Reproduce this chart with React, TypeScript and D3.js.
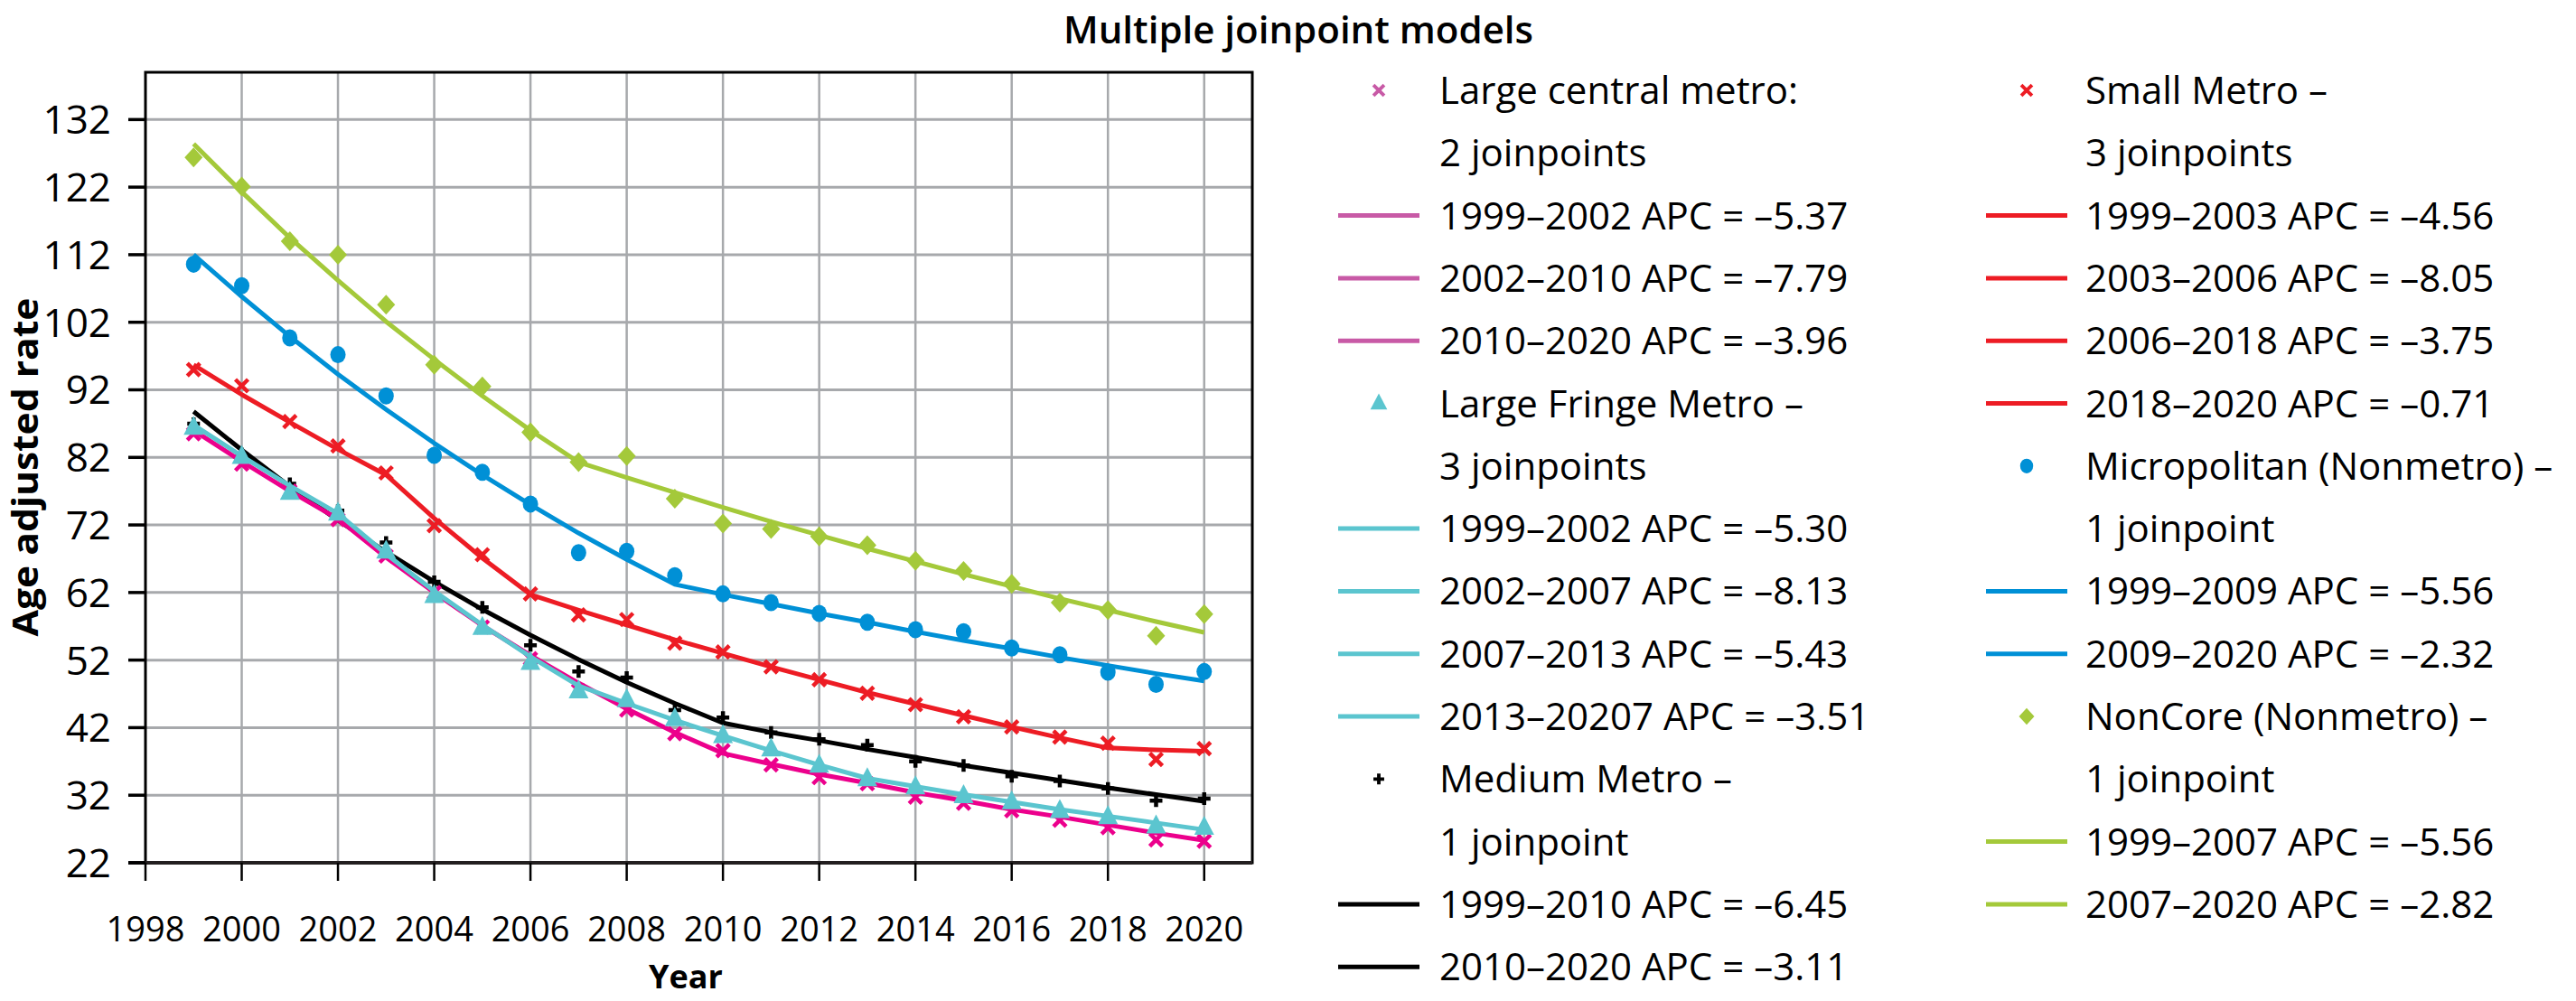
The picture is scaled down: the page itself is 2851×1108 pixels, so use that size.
import React from 'react';
import * as d3 from 'd3';

const WIDTH = 2851;
const HEIGHT = 1108;
const PLOT = { left: 161, right: 1386, top: 80, bottom: 955 };
const FONT = "'Open Sans', 'Noto Sans', sans-serif";

const years = [1999, 2000, 2001, 2002, 2003, 2004, 2005, 2006, 2007, 2008, 2009, 2010, 2011, 2012, 2013, 2014, 2015, 2016, 2017, 2018, 2019, 2020];
const xTicks = [1998, 2000, 2002, 2004, 2006, 2008, 2010, 2012, 2014, 2016, 2018, 2020];
const yTicks = [22, 32, 42, 52, 62, 72, 82, 92, 102, 112, 122, 132];

// observed rates
const centralObs = [85.5, 81.0, 77.0, 72.8, 67.4, 62.0, 56.9, 52.2, 47.5, 44.6, 41.1, 38.6, 36.5, 34.6, 33.7, 31.7, 30.8, 29.7, 28.3, 27.2, 25.4, 25.2];
const fringeObs = [86.4, 82.1, 76.8, 73.7, 68.1, 61.5, 56.8, 51.6, 47.4, 46.1, 43.3, 40.8, 38.8, 36.4, 34.4, 33.2, 31.9, 31.0, 29.7, 28.8, 27.4, 27.2];
const mediumObs = [87.0, 82.5, 78.1, 74.1, 69.4, 63.6, 59.8, 54.2, 50.3, 49.4, 44.6, 43.5, 41.3, 40.3, 39.4, 37.0, 36.4, 34.8, 34.1, 33.0, 31.2, 31.5];
const smallObs = [95.0, 92.6, 87.3, 83.7, 79.7, 71.9, 67.6, 61.8, 58.7, 58.0, 54.5, 53.2, 51.0, 49.1, 47.1, 45.4, 43.6, 42.1, 40.6, 39.7, 37.3, 38.9];
const microObs = [110.6, 107.4, 99.7, 97.2, 91.1, 82.3, 79.8, 75.1, 67.9, 68.1, 64.5, 61.8, 60.5, 58.9, 57.6, 56.5, 56.2, 53.8, 52.8, 50.2, 48.4, 50.3];
const noncoreObs = [126.4, 122.1, 114.0, 112.0, 104.6, 95.7, 92.5, 85.7, 81.3, 82.2, 75.9, 72.2, 71.4, 70.3, 69.0, 66.7, 65.2, 63.3, 60.5, 59.4, 55.6, 58.8];

// joinpoint fitted lines
const centralFit = [86.0, 81.4, 77.0, 72.9, 67.2, 62.0, 57.1, 52.7, 48.6, 44.8, 41.3, 38.2, 36.6, 35.1, 33.8, 32.4, 31.2, 29.9, 28.8, 27.6, 26.4, 25.3];
const fringeFit = [86.8, 82.2, 77.8, 73.7, 67.7, 62.2, 57.2, 52.5, 48.2, 45.6, 43.1, 40.8, 38.6, 36.5, 34.5, 33.3, 32.1, 31.0, 29.9, 28.9, 27.9, 26.9];
const mediumFit = [88.8, 83.1, 77.7, 72.7, 68.0, 63.6, 59.5, 55.7, 52.1, 48.7, 45.6, 42.7, 41.3, 40.1, 38.8, 37.6, 36.4, 35.3, 34.2, 33.1, 32.1, 31.1];
const smallFit = [95.7, 91.3, 87.2, 83.2, 79.4, 73.0, 67.1, 61.7, 59.4, 57.2, 55.0, 53.0, 51.0, 49.1, 47.2, 45.5, 43.8, 42.1, 40.5, 39.0, 38.7, 38.5];
const microFit = [112.0, 105.8, 99.9, 94.3, 89.1, 84.1, 79.4, 75.0, 70.8, 66.9, 63.2, 61.7, 60.3, 58.9, 57.6, 56.2, 54.9, 53.7, 52.4, 51.2, 50.0, 48.9];
const noncoreFit = [128.4, 121.3, 114.5, 108.2, 102.1, 96.5, 91.1, 86.0, 81.3, 79.0, 76.8, 74.6, 72.5, 70.5, 68.5, 66.6, 64.7, 62.9, 61.1, 59.4, 57.7, 56.1];

const centralLegend = ['Large central metro:', '2 joinpoints'];
const centralSegments = ['1999–2002 APC = –5.37', '2002–2010 APC = –7.79', '2010–2020 APC = –3.96'];
const fringeLegend = ['Large Fringe Metro –', '3 joinpoints'];
const fringeSegments = ['1999–2002 APC = –5.30', '2002–2007 APC = –8.13', '2007–2013 APC = –5.43', '2013–20207 APC = –3.51'];
const mediumLegend = ['Medium Metro –', '1 joinpoint'];
const mediumSegments = ['1999–2010 APC = –6.45', '2010–2020 APC = –3.11'];
const smallLegend = ['Small Metro –', '3 joinpoints'];
const smallSegments = ['1999–2003 APC = –4.56', '2003–2006 APC = –8.05', '2006–2018 APC = –3.75', '2018–2020 APC = –0.71'];
const microLegend = ['Micropolitan (Nonmetro) –', '1 joinpoint'];
const microSegments = ['1999–2009 APC = –5.56', '2009–2020 APC = –2.32'];
const noncoreLegend = ['NonCore (Nonmetro) –', '1 joinpoint'];
const noncoreSegments = ['1999–2007 APC = –5.56', '2007–2020 APC = –2.82'];

type Shape = 'x' | 'plus' | 'triangle' | 'circle' | 'diamond';
type Series = {
  obs: number[];
  fit: number[];
  color: string;
  legendColor: string;
  shape: Shape;
  title: string[];
  segments: string[];
};

const central: Series = { obs: centralObs, fit: centralFit, color: '#ec008c', legendColor: '#c85aa6', shape: 'x', title: centralLegend, segments: centralSegments };
const fringe: Series = { obs: fringeObs, fit: fringeFit, color: '#5bc5cf', legendColor: '#5bc5cf', shape: 'triangle', title: fringeLegend, segments: fringeSegments };
const medium: Series = { obs: mediumObs, fit: mediumFit, color: '#000000', legendColor: '#000000', shape: 'plus', title: mediumLegend, segments: mediumSegments };
const small: Series = { obs: smallObs, fit: smallFit, color: '#ed1c24', legendColor: '#ed1c24', shape: 'x', title: smallLegend, segments: smallSegments };
const micro: Series = { obs: microObs, fit: microFit, color: '#0090d6', legendColor: '#0090d6', shape: 'circle', title: microLegend, segments: microSegments };
const noncore: Series = { obs: noncoreObs, fit: noncoreFit, color: '#a4c93a', legendColor: '#a4c93a', shape: 'diamond', title: noncoreLegend, segments: noncoreSegments };

const drawOrder = [noncore, micro, small, medium, central, fringe];
const leftColumn = [central, fringe, medium];
const rightColumn = [small, micro, noncore];

const Marker = ({ shape, x, y, color, scale = 1 }: { shape: Shape; x: number; y: number; color: string; scale?: number }) => {
  const s = scale;
  if (shape === 'x') {
    const h = 7 * s;
    return (
      <path d={`M${x - h},${y - h}L${x + h},${y + h}M${x - h},${y + h}L${x + h},${y - h}`} stroke={color} strokeWidth={4.5 * s} />
    );
  }
  if (shape === 'plus') {
    const h = 7 * s;
    return <path d={`M${x - h},${y}L${x + h},${y}M${x},${y - h}L${x},${y + h}`} stroke={color} strokeWidth={4.5 * s} />;
  }
  if (shape === 'triangle') {
    const w = 11 * s;
    const ht = 21 * s;
    return <path d={`M${x},${y - ht * 0.62}L${x + w},${y + ht * 0.38}L${x - w},${y + ht * 0.38}Z`} fill={color} />;
  }
  if (shape === 'circle') {
    return <ellipse cx={x} cy={y} rx={8.5 * s} ry={9.5 * s} fill={color} />;
  }
  const w = 10 * s;
  const hh = 11 * s;
  return <path d={`M${x},${y - hh}L${x + w},${y}L${x},${y + hh}L${x - w},${y}Z`} fill={color} />;
};

export default function App() {
  const x = d3.scaleLinear().domain([1998, 2021]).range([PLOT.left, PLOT.right]);
  const y = d3.scaleLinear().domain([22, 139]).range([PLOT.bottom, PLOT.top]);

  const line = d3
    .line<number>()
    .x((_, i) => x(years[i]))
    .y((d) => y(d));

  const ROW0 = 100;
  const ROW_H = 69.3;
  const columns = [
    { series: leftColumn, lineX: 1481, markerX: 1526, textX: 1593 },
    { series: rightColumn, lineX: 2198, markerX: 2243, textX: 2308 },
  ];

  const legend = columns.map((col, ci) => {
    const rows: React.ReactNode[] = [];
    let r = 0;
    col.series.forEach((s, si) => {
      s.title.forEach((t, ti) => {
        const cy = ROW0 + r * ROW_H;
        if (ti === 0) rows.push(<Marker key={`m${si}`} shape={s.shape} x={col.markerX} y={cy} color={s.legendColor} scale={0.85} />);
        rows.push(
          <text key={`t${si}-${ti}`} x={col.textX} y={cy + 15} fontSize={42}>
            {t}
          </text>
        );
        r += 1;
      });
      s.segments.forEach((t, ti) => {
        const cy = ROW0 + r * ROW_H;
        rows.push(<line key={`l${si}-${ti}`} x1={col.lineX} x2={col.lineX + 90} y1={cy} y2={cy} stroke={s.legendColor} strokeWidth={5} />);
        rows.push(
          <text key={`s${si}-${ti}`} x={col.textX} y={cy + 15} fontSize={42}>
            {t}
          </text>
        );
        r += 1;
      });
    });
    return <g key={ci}>{rows}</g>;
  });

  return (
    <svg width={WIDTH} height={HEIGHT} style={{ position: 'absolute', left: 0, top: 0, background: '#fff' }} fontFamily={FONT}>
      <rect width={WIDTH} height={HEIGHT} fill="#fff" />
      <text x={1437} y={48} textAnchor="middle" fontSize={42} fontWeight={600}>
        Multiple joinpoint models
      </text>

      {/* grid */}
      {xTicks.slice(1).map((t) => (
        <line key={`gx${t}`} x1={x(t)} x2={x(t)} y1={PLOT.top} y2={PLOT.bottom} stroke="#a7a9ac" strokeWidth={2.5} />
      ))}
      {yTicks.slice(1).map((t) => (
        <line key={`gy${t}`} x1={PLOT.left} x2={PLOT.right} y1={y(t)} y2={y(t)} stroke="#a7a9ac" strokeWidth={3} />
      ))}

      {/* frame */}
      <rect x={PLOT.left} y={PLOT.top} width={PLOT.right - PLOT.left} height={PLOT.bottom - PLOT.top} fill="none" stroke="#000" strokeWidth={3} />
      <line x1={PLOT.left - 19} x2={PLOT.right} y1={PLOT.bottom} y2={PLOT.bottom} stroke="#231f20" strokeWidth={4} />

      {/* ticks */}
      {xTicks.map((t) => (
        <g key={`tx${t}`}>
          <line x1={x(t)} x2={x(t)} y1={PLOT.bottom} y2={PLOT.bottom + 20} stroke="#000" strokeWidth={2.5} />
          <text x={x(t)} y={1042} textAnchor="middle" fontSize={38}>
            {t}
          </text>
        </g>
      ))}
      {yTicks.map((t) => (
        <g key={`ty${t}`}>
          <line x1={PLOT.left - 19} x2={PLOT.left} y1={y(t)} y2={y(t)} stroke="#000" strokeWidth={3.5} />
          <text x={123} y={y(t) + 16} textAnchor="end" fontSize={44}>
            {t}
          </text>
        </g>
      ))}

      {/* series */}
      {drawOrder.map((s, si) => (
        <g key={`s${si}`}>
          <path d={line(s.fit) ?? ''} fill="none" stroke={s.color} strokeWidth={5} strokeLinejoin="round" />
          {s.obs.map((v, i) => (
            <Marker key={i} shape={s.shape} x={x(years[i])} y={y(v)} color={s.color} />
          ))}
        </g>
      ))}

      <text
        transform="translate(42,517) rotate(-90)"
        textAnchor="middle"
        fontSize={40}
        fontWeight={700}
        textLength={375}
        lengthAdjust="spacingAndGlyphs"
      >
        Age adjusted rate
      </text>
      <text x={759} y={1094} textAnchor="middle" fontSize={36} fontWeight={700}>
        Year
      </text>

      {legend}
    </svg>
  );
}
